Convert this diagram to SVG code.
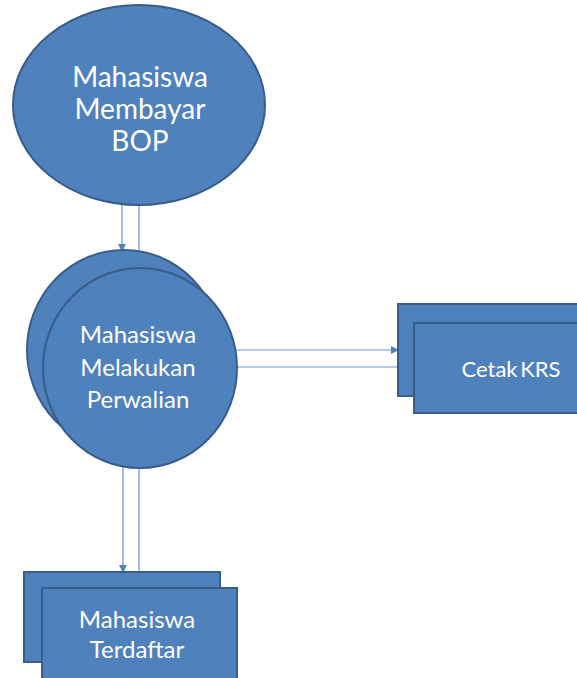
<svg xmlns="http://www.w3.org/2000/svg" width="577" height="678" viewBox="0 0 577 678">
<style>
.n{fill:#4F81BD;stroke:#385D8A;stroke-width:2}
.t{fill:#FFFFFF;font-family:Lato,"Open Sans",sans-serif;text-anchor:middle}
.c{stroke:#6A93C8;stroke-width:1.2;fill:none}
</style>
<defs>
<marker id="a" markerWidth="8" markerHeight="8" refX="7" refY="4" orient="auto" markerUnits="userSpaceOnUse">
<path d="M0,0 L8,4 L0,8 Z" fill="#4F81BD"/>
</marker>
</defs>
<rect width="577" height="678" fill="#FFFFFF"/>
<g id="connectors">
<line class="c" x1="122" y1="204" x2="122" y2="251" marker-end="url(#a)"/>
<line class="c" x1="139" y1="204" x2="139" y2="270"/>
<line class="c" x1="235" y1="350" x2="398" y2="350" marker-end="url(#a)"/>
<line class="c" x1="237" y1="367" x2="414" y2="367"/>
<line class="c" x1="123" y1="462" x2="123" y2="572" marker-end="url(#a)"/>
<line class="c" x1="139" y1="466" x2="139" y2="588"/>
</g>
<g id="n1">
<ellipse class="n" cx="139" cy="105" rx="126" ry="100"/>
<text class="t" font-size="28" x="140" y="87">Mahasiswa</text>
<text class="t" font-size="28" x="140" y="119">Membayar</text>
<text class="t" font-size="28" x="140" y="151">BOP</text>
</g>
<g id="n2">
<ellipse class="n" cx="124" cy="350" rx="97" ry="100"/>
<ellipse class="n" cx="140" cy="368" rx="97" ry="100"/>
<text class="t" font-size="24" x="138" y="343">Mahasiswa</text>
<text class="t" font-size="24" x="138" y="376">Melakukan</text>
<text class="t" font-size="24" x="138" y="408">Perwalian</text>
</g>
<g id="n3">
<rect class="n" x="398" y="304" width="181" height="92"/>
<rect class="n" x="414" y="323" width="165" height="90"/>
<text class="t" font-size="22" x="511" y="377" word-spacing="-3">Cetak KRS</text>
</g>
<g id="n4">
<rect class="n" x="24" y="572" width="196" height="90"/>
<rect class="n" x="42" y="588" width="195" height="92"/>
<text class="t" font-size="24" x="137" y="628">Mahasiswa</text>
<text class="t" font-size="24" x="137" y="658">Terdaftar</text>
</g>
</svg>
